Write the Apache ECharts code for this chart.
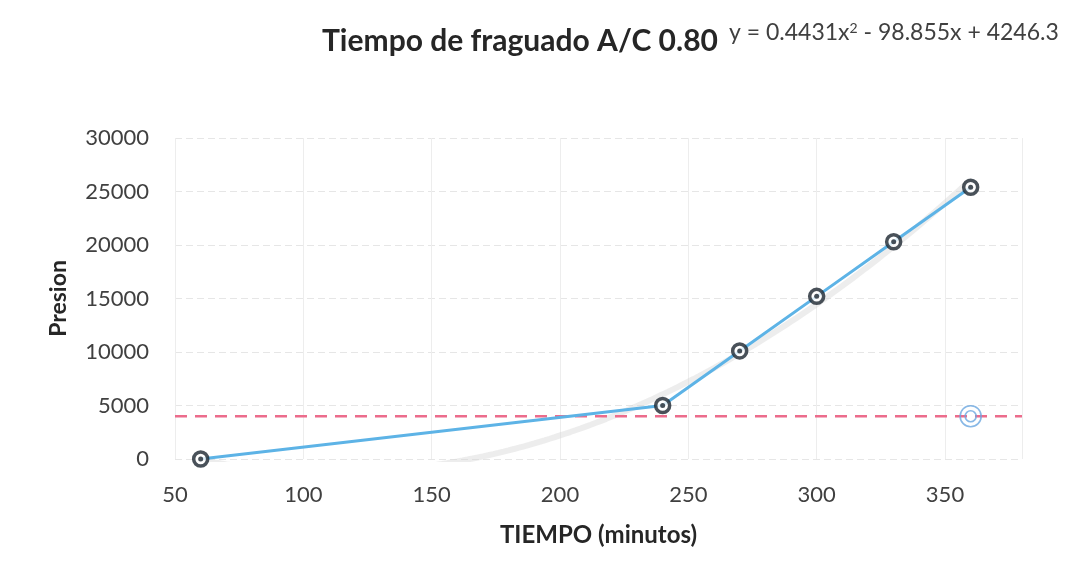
<!DOCTYPE html>
<html>
<head>
<meta charset="utf-8">
<script src="https://cdn.jsdelivr.net/npm/echarts@6/dist/echarts.min.js"></script>
<style>
  html, body { margin: 0; padding: 0; background: #fff; }
  #chart { width: 1069px; height: 580px; }
</style>
</head>
<body>
<div id="chart"></div>
<script>
// Setting-time test: penetration pressure vs elapsed time
const tiempo = [60, 240, 270, 300, 330, 360];
const presion = [0, 5000, 10100, 15200, 20300, 25400];

// Reference pressure level (dashed) and its marker
const limiteX = [50, 380];
const limiteY = 4000;
const limiteMarca = [360, 4000];

// Polynomial trendline coefficients: y = a x^2 + b x + c
const coefTendencia = [0.4431, -98.855, 4246.3];

const xTicks = [50, 100, 150, 200, 250, 300, 350];
const yTicks = [0, 5000, 10000, 15000, 20000, 25000, 30000];

// Trendline sampled from the printed equation over the measured range
const tendencia = [];
for (let x = tiempo[0]; x <= tiempo[tiempo.length - 1]; x += 2) {
  const [a, b, c] = coefTendencia;
  tendencia.push([x, a * x * x + b * x + c]);
}

const puntos = tiempo.map((t, i) => [t, presion[i]]);
const FONT = 'Lato, "Open Sans", sans-serif';

const chart = echarts.init(document.getElementById('chart'), null, { renderer: 'canvas' });
chart.setOption({
  backgroundColor: '#ffffff',
  animation: false,
  title: [
    {
      text: 'Tiempo de fraguado A/C 0.80',
      left: 317, top: 21,
      textStyle: { fontFamily: FONT, fontSize: 30, fontWeight: 'bold', color: '#262626' }
    },
    {
      text: 'y = 0.4431x{sup|2} - 98.855x + 4246.3',
      left: 724, top: 16,
      textStyle: {
        fontFamily: FONT, fontSize: 23, fontWeight: 'normal', color: '#404040',
        rich: {
          sup: { fontFamily: FONT, fontSize: 14, color: '#404040', verticalAlign: 'top', padding: [0, 0, 9, 0] }
        }
      }
    }
  ],
  grid: { left: 175, right: 47, top: 138, bottom: 121, containLabel: false },
  xAxis: {
    type: 'value',
    min: xTicks[0], max: limiteX[1], interval: 50,
    name: 'TIEMPO (minutos)',
    nameLocation: 'middle', nameGap: 64,
    nameTextStyle: { fontFamily: FONT, fontSize: 24, fontWeight: 'bold', color: '#262626' },
    axisLine: { show: false },
    axisTick: { show: false },
    axisLabel: {
      fontFamily: FONT, fontSize: 22, color: '#404040', margin: 25,
      showMaxLabel: false,
      formatter: v => (xTicks.includes(v) ? String(v) : '')
    },
    splitLine: { show: true, lineStyle: { color: '#ededed', width: 1 } }
  },
  yAxis: {
    type: 'value',
    min: yTicks[0], max: yTicks[yTicks.length - 1], interval: 5000,
    name: 'Presion',
    nameLocation: 'middle', nameGap: 105, nameRotate: 90,
    nameTextStyle: { fontFamily: FONT, fontSize: 23, fontWeight: 'bold', color: '#262626' },
    axisLine: { show: false },
    axisTick: { show: false },
    axisLabel: {
      fontFamily: FONT, fontSize: 22, color: '#404040', margin: 26,
      formatter: v => String(v)
    },
    splitLine: { show: true, lineStyle: { color: '#e6e6e6', width: 1, type: [7, 4] } }
  },
  series: [
    {
      name: 'Tendencia',
      type: 'line',
      data: tendencia,
      showSymbol: false,
      clip: true,
      lineStyle: { color: '#d6d6d6', width: 6, opacity: 0.45 },
      z: 1
    },
    {
      name: 'Limite',
      type: 'line',
      data: limiteX.map(x => [x, limiteY]),
      showSymbol: false,
      lineStyle: { color: '#ec6c8c', width: 2.5, type: [12, 8] },
      z: 2
    },
    {
      name: 'Presion',
      type: 'line',
      data: puntos,
      showSymbol: false,
      lineStyle: { color: '#5db3e6', width: 3 },
      z: 3
    },
    {
      name: 'Marcador',
      type: 'scatter',
      data: puntos,
      symbol: 'circle',
      symbolSize: 14,
      itemStyle: { color: '#ffffff', borderColor: '#1c2530', borderWidth: 3.5 },
      z: 4
    },
    {
      name: 'Centro',
      type: 'scatter',
      data: puntos,
      symbol: 'circle',
      symbolSize: 5,
      itemStyle: { color: '#1c2530' },
      z: 5
    },
    {
      name: 'Limite marca',
      type: 'scatter',
      data: [limiteMarca],
      symbol: 'circle',
      symbolSize: 21,
      itemStyle: { color: 'rgba(255,255,255,0)', borderColor: '#6aa6e0', borderWidth: 1.6 },
      z: 4
    },
    {
      name: 'Limite marca centro',
      type: 'scatter',
      data: [limiteMarca],
      symbol: 'circle',
      symbolSize: 11,
      itemStyle: { color: 'rgba(255,255,255,0)', borderColor: '#6aa6e0', borderWidth: 1.6 },
      z: 4
    }
  ]
});
</script>
</body>
</html>
